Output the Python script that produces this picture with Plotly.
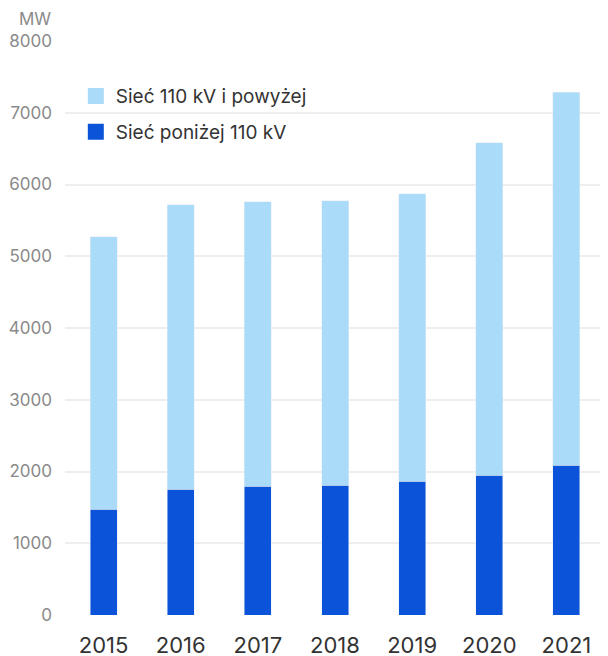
import plotly.graph_objects as go

years = ["2015", "2016", "2017", "2018", "2019", "2020", "2021"]
below_110 = [1475, 1754, 1795, 1809, 1865, 1949, 2088]
above_110 = [3799, 3967, 3968, 3968, 4005, 4635, 5196]
y_ticks = [0, 1000, 2000, 3000, 4000, 5000, 6000, 7000, 8000]

light = "#aadbf8"
dark = "#0b54d9"

fig = go.Figure()
fig.add_trace(go.Bar(x=years, y=below_110, marker_color=dark, name="Sieć poniżej 110 kV",
                     showlegend=False))
fig.add_trace(go.Bar(x=years, y=above_110, marker_color=light, name="Sieć 110 kV i powyżej",
                     showlegend=False))

# legend entries with bigger square swatches
fig.add_trace(go.Scatter(x=[None], y=[None], mode="markers", name="Sieć 110 kV i powyżej",
                         legendgroup="a", marker=dict(symbol="square", size=18, color=light)))
fig.add_trace(go.Scatter(x=[None], y=[None], mode="markers", name="Sieć poniżej 110 kV",
                         legendgroup="b", marker=dict(symbol="square", size=18, color=dark)))

# page has an 8px body margin -> figure sized/margined to land where the reference is
fig.update_layout(
    width=600, height=648,
    margin=dict(l=57, r=3, t=33, b=41),
    barmode="stack",
    bargap=0.65,
    plot_bgcolor="white",
    paper_bgcolor="white",
    font=dict(family="Inter, sans-serif", color="#333333"),
    legend=dict(x=0.02, y=0.937, xanchor="left", yanchor="top", traceorder="grouped",
                font=dict(size=19, color="#333333"), itemwidth=30, tracegroupgap=8,
                bgcolor="rgba(0,0,0,0)"),
    xaxis=dict(showgrid=False, showline=False, ticks="", automargin=False,
               tickfont=dict(size=22, color="#333333"), ticklabelstandoff=15),
    yaxis=dict(range=[0, 8000], tickvals=y_ticks, showgrid=True, gridcolor="#eeeeee",
               gridwidth=1.5, zeroline=False, showline=False, ticks="", automargin=False,
               tickfont=dict(size=17, color="#8a8a8a"), ticklabelstandoff=12),
    annotations=[dict(text="MW", xref="paper", yref="paper", x=0, y=1, xshift=-12, yshift=22,
                      xanchor="right", yanchor="middle", showarrow=False,
                      font=dict(size=17, color="#8a8a8a"))],
)

fig.write_html("out.html")
